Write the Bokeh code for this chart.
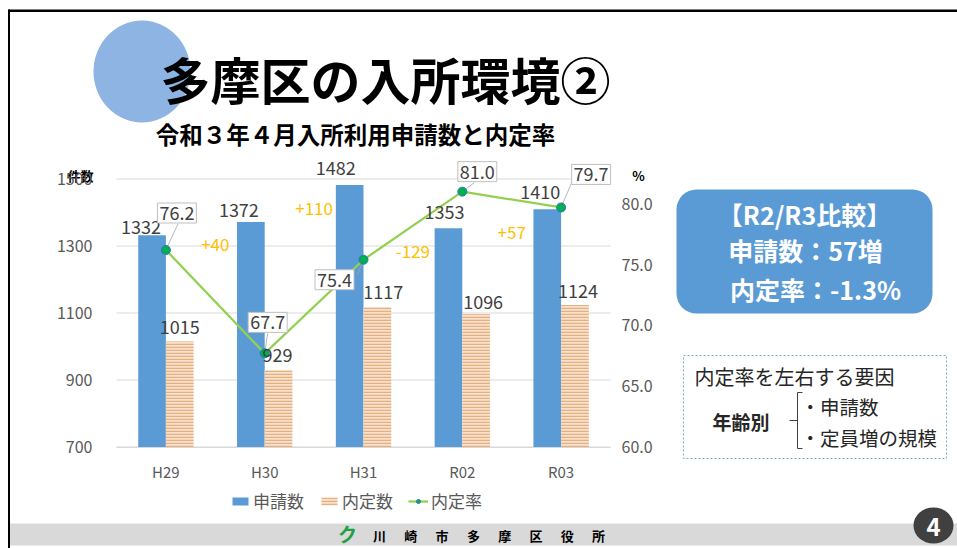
from bokeh.plotting import figure
from bokeh.models import (Range1d, LinearAxis, FixedTicker, NumeralTickFormatter,
                          Legend, LegendItem, ColumnDataSource)
from bokeh.transform import dodge
from bokeh.embed import file_html
from bokeh.resources import INLINE
from bokeh.core.properties import value

# ---------------- data ----------------
years = ["H29", "H30", "H31", "R02", "R03"]
applications = [1332, 1372, 1482, 1353, 1410]   # 申請数
offers = [1015, 929, 1117, 1096, 1124]          # 内定数
offer_rate = [76.2, 67.7, 75.4, 81.0, 79.7]     # 内定率 (%)
left_ticks = [700, 900, 1100, 1300, 1500]
right_ticks = [60, 65, 70, 75, 80]

# ---------------- styles ----------------
FONT = value("Noto Sans CJK JP")
FONT_S = "Noto Sans CJK JP"
BLUE = "#5B9BD5"
app_dx = [-11, -12, -14, -4, -7]
app_dy = [-8, -12, -17, -16, -17]
off_dx = [0, -1, 6, 7, 3]
off_dy = [-14, -15, -15, -12, -14]
rate_dx = [11, 3, -29, 15, 30]
rate_dy = [-37, -31, 20, -20, -33]
lead_dx = [12, 3, -6, 12, 14]      # leader-line ends (pixels from marker)
lead_dy = [-26, -20, 15, -9, -33]

# page geometry (pixels)
W, H = 957, 548
X0, Y0 = 0, 0
PL, PR = 116, 610            # plot area left / right
PB = 446.5                   # baseline (700 / 60.0)
Y1500, Y80 = 178.5, 203.3    # pixel rows of top ticks

p = figure(width=W, height=H, x_range=Range1d(X0, X0 + W), y_range=Range1d(Y0 + H, Y0),
           x_axis_location=None, y_axis_location=None, min_border=0,
           output_backend="svg", toolbar_location=None)
p.grid.visible = False
p.outline_line_color = None
p.background_fill_color = "white"
p.border_fill_color = "white"

kx = (len(years)) / (PR - PL)
kc = (left_ticks[-1] - left_ticks[0]) / (PB - Y1500)
kr = (right_ticks[-1] - right_ticks[0]) / (PB - Y80)
p.extra_x_ranges = {"cat": Range1d(-0.5 - (PL - X0) * kx, len(years) - 0.5 + (X0 + W - PR) * kx)}
p.extra_y_ranges = {
    "cnt": Range1d(left_ticks[0] - (Y0 + H - PB) * kc, left_ticks[-1] + (Y1500 - Y0) * kc),
    "rate": Range1d(right_ticks[0] - (Y0 + H - PB) * kr, right_ticks[-1] + (Y80 - Y0) * kr),
}

# ---------------- decorations ----------------
p.quad(left=8, right=W, top=9, bottom=11.5, color="black", line_color=None)
p.quad(left=7.5, right=9.5, top=9, bottom=H, color="black", line_color=None)
p.ellipse(x=[141.5], y=[71], width=[97], height=[102], color="#8DB4E2", line_color=None)
p.text(x=[160], y=[77], text=["多摩区の入所環境②"], text_font=FONT, text_font_size="50px",
       text_font_style="bold", text_color="black", text_baseline="middle")
p.text(x=[355], y=[133.5], text=["令和３年４月入所利用申請数と内定率"], text_font=FONT,
       text_font_size="23.5px", text_font_style="bold", text_color="black",
       text_align="center", text_baseline="middle")

# footer
p.quad(left=9.5, right=W, top=523, bottom=545, color="#D9D9D9", line_color=None)
p.text(x=[347], y=[533], text=["ク"], text_font=FONT, text_font_size="19px",
       text_font_style="bold", text_color="#1FA045", text_align="center",
       text_baseline="middle")
chars = list("川崎市多摩区役所")
p.text(x=[379 + 31.3 * i for i in range(len(chars))], y=[535] * len(chars), text=chars,
       text_font=FONT, text_font_size="13px", text_font_style="bold", text_color="black",
       text_align="center", text_baseline="middle")
p.ellipse(x=[933], y=[525], width=[40], height=[36], color="#404040", line_color=None)
p.text(x=[933], y=[526], text=["4"], text_font=FONT, text_font_size="24px",
       text_font_style="bold", text_color="white", text_align="center", text_baseline="middle")

# right panel
p.quad(left=676, right=932, top=189, bottom=313, border_radius=20, color=BLUE, line_color=None)
box_lines = ["【R2/R3比較】",
             f"申請数：{applications[-1] - applications[-2]}増",
             f"内定率：{offer_rate[-1] - offer_rate[-2]:.1f}%"]
p.text(x=[804, 805, 815], y=[213, 249, 288], text=box_lines, text_font=FONT,
       text_font_size="25px", text_font_style="bold", text_color="white",
       text_align="center", text_baseline="middle")
p.quad(left=683, right=946, top=355, bottom=458, fill_color=None, line_color="#7FA7D6",
       line_width=1, line_dash="2 2")
p.text(x=[694], y=[376], text=["内定率を左右する要因"], text_font=FONT, text_font_size="20px",
       text_color="#262626", text_baseline="middle")
p.text(x=[712], y=[420.5], text=["年齢別"], text_font=FONT, text_font_size="19px",
       text_font_style="bold", text_color="#262626", text_baseline="middle")
p.text(x=[800, 800], y=[406, 436.5], text=["・申請数", "・定員増の規模"], text_font=FONT,
       text_font_size="19.5px", text_color="#262626", text_baseline="middle")
p.multi_line(xs=[[802, 797, 797, 802], [789, 797]], ys=[[392, 392, 448, 448], [420, 420]],
             line_color="#404040", line_width=1)

# ---------------- chart ----------------
x = list(range(len(years)))
src = ColumnDataSource(dict(
    x=x, app=applications, offer=offers, rate=offer_rate,
    app_txt=[str(v) for v in applications], off_txt=[str(v) for v in offers],
    rate_txt=[f"{v:.1f}" for v in offer_rate],
    app_dx=app_dx, app_dy=app_dy, off_dx=off_dx, off_dy=off_dy,
    rate_dx=rate_dx, rate_dy=rate_dy,
    lead_x=[xi + d * kx for xi, d in zip(x, lead_dx)],
    lead_y=[r - d * kr for r, d in zip(offer_rate, lead_dy)]))

C = dict(x_range_name="cat", y_range_name="cnt")
R = dict(x_range_name="cat", y_range_name="rate")

# gridlines
p.segment(x0=-0.5, x1=len(years) - 0.5, y0=left_ticks, y1=left_ticks,
          line_color="#D9D9D9", line_width=1, **C)

r_app = p.vbar(x=dodge("x", -0.14), top="app", bottom=left_ticks[0], width=0.28, source=src,
               fill_color=BLUE, line_color=None, **C)
r_off = p.vbar(x=dodge("x", 0.14), top="offer", bottom=left_ticks[0], width=0.28, source=src,
               fill_color="#FAE0CA", line_color=None, hatch_pattern="horizontal_line",
               hatch_color="#E2B184", hatch_scale=3, hatch_weight=1.5, **C)
r_line = p.line("x", "rate", source=src, line_color="#92D050", line_width=2.25, **R)
p.segment(x0="x", y0="rate", x1="lead_x", y1="lead_y", source=src,
          line_color="#A6A6A6", line_width=0.8, **R)
r_dot = p.scatter("x", "rate", source=src, size=9, fill_color="#00B050",
                  line_color="#2E75B6", line_width=1, **R)

p.text(x=dodge("x", -0.14), y="app", text="app_txt", x_offset="app_dx", y_offset="app_dy",
       source=src, text_font=FONT, text_font_size="18px", text_color="#404040",
       text_align="center", text_baseline="middle", **C)
p.text(x=dodge("x", 0.14), y="offer", text="off_txt", x_offset="off_dx", y_offset="off_dy",
       source=src, text_font=FONT, text_font_size="18px", text_color="#404040",
       text_align="center", text_baseline="middle", **C)
p.text(x="x", y="rate", text="rate_txt", x_offset="rate_dx", y_offset="rate_dy",
       source=src, text_font=FONT, text_font_size="18px",
       text_color="#404040", text_align="center", text_baseline="middle",
       background_fill_color="white", border_line_color="#BFBFBF",
       padding=dict(left=2, right=2, top=3, bottom=3), **R)

diffs = [applications[i] - applications[i - 1] for i in range(1, len(applications))]
p.text(x=[i - 0.5 for i in range(1, len(applications))], y=applications[1:],
       text=[f"{d:+d}" for d in diffs], y_offset=23, text_font=FONT, text_font_size="17px",
       text_color="#FFC000", text_align="center", text_baseline="middle", **C)

# axis titles
p.text(x=[80, 638], y=[175, 175], text=["件数", "%"], text_font=FONT, text_font_size="13px",
       text_font_style="bold", text_color="black", text_align="center", text_baseline="middle")


def style_axis(ax, standoff, size="16px"):
    ax.major_tick_line_color = None
    ax.minor_tick_line_color = None
    ax.major_label_standoff = standoff
    ax.major_label_text_font = FONT_S
    ax.major_label_text_font_size = size
    ax.major_label_text_color = "#595959"


ax_b = LinearAxis(fixed_location=left_ticks[0], ticker=FixedTicker(ticks=x),
                  bounds=(-0.5, len(years) - 0.5), **C)
ax_b.major_label_overrides = {i: y for i, y in enumerate(years)}
ax_b.axis_line_color = "#D9D9D9"
style_axis(ax_b, 8, "15px")
p.add_layout(ax_b, "below")

ax_l = LinearAxis(fixed_location=-0.5, ticker=FixedTicker(ticks=left_ticks), **C)
ax_l.axis_line_color = None
style_axis(ax_l, 18)
p.add_layout(ax_l, "left")

ax_r = LinearAxis(fixed_location=len(years) - 0.5, ticker=FixedTicker(ticks=right_ticks),
                  formatter=NumeralTickFormatter(format="0.0"), **R)
ax_r.axis_line_color = None
style_axis(ax_r, 5)
p.add_layout(ax_r, "right")

legend = Legend(items=[LegendItem(label="申請数", renderers=[r_app]),
                       LegendItem(label="内定数", renderers=[r_off]),
                       LegendItem(label="内定率", renderers=[r_line, r_dot])],
                location=(230, 35), orientation="horizontal", glyph_width=20, glyph_height=10,
                label_text_font=FONT_S, label_text_font_size="17px", label_text_color="#595959",
                spacing=15, label_standoff=3, border_line_color=None,
                background_fill_alpha=0, padding=0, margin=0)
p.add_layout(legend)

open("out.html", "w").write(file_html(p, INLINE))
